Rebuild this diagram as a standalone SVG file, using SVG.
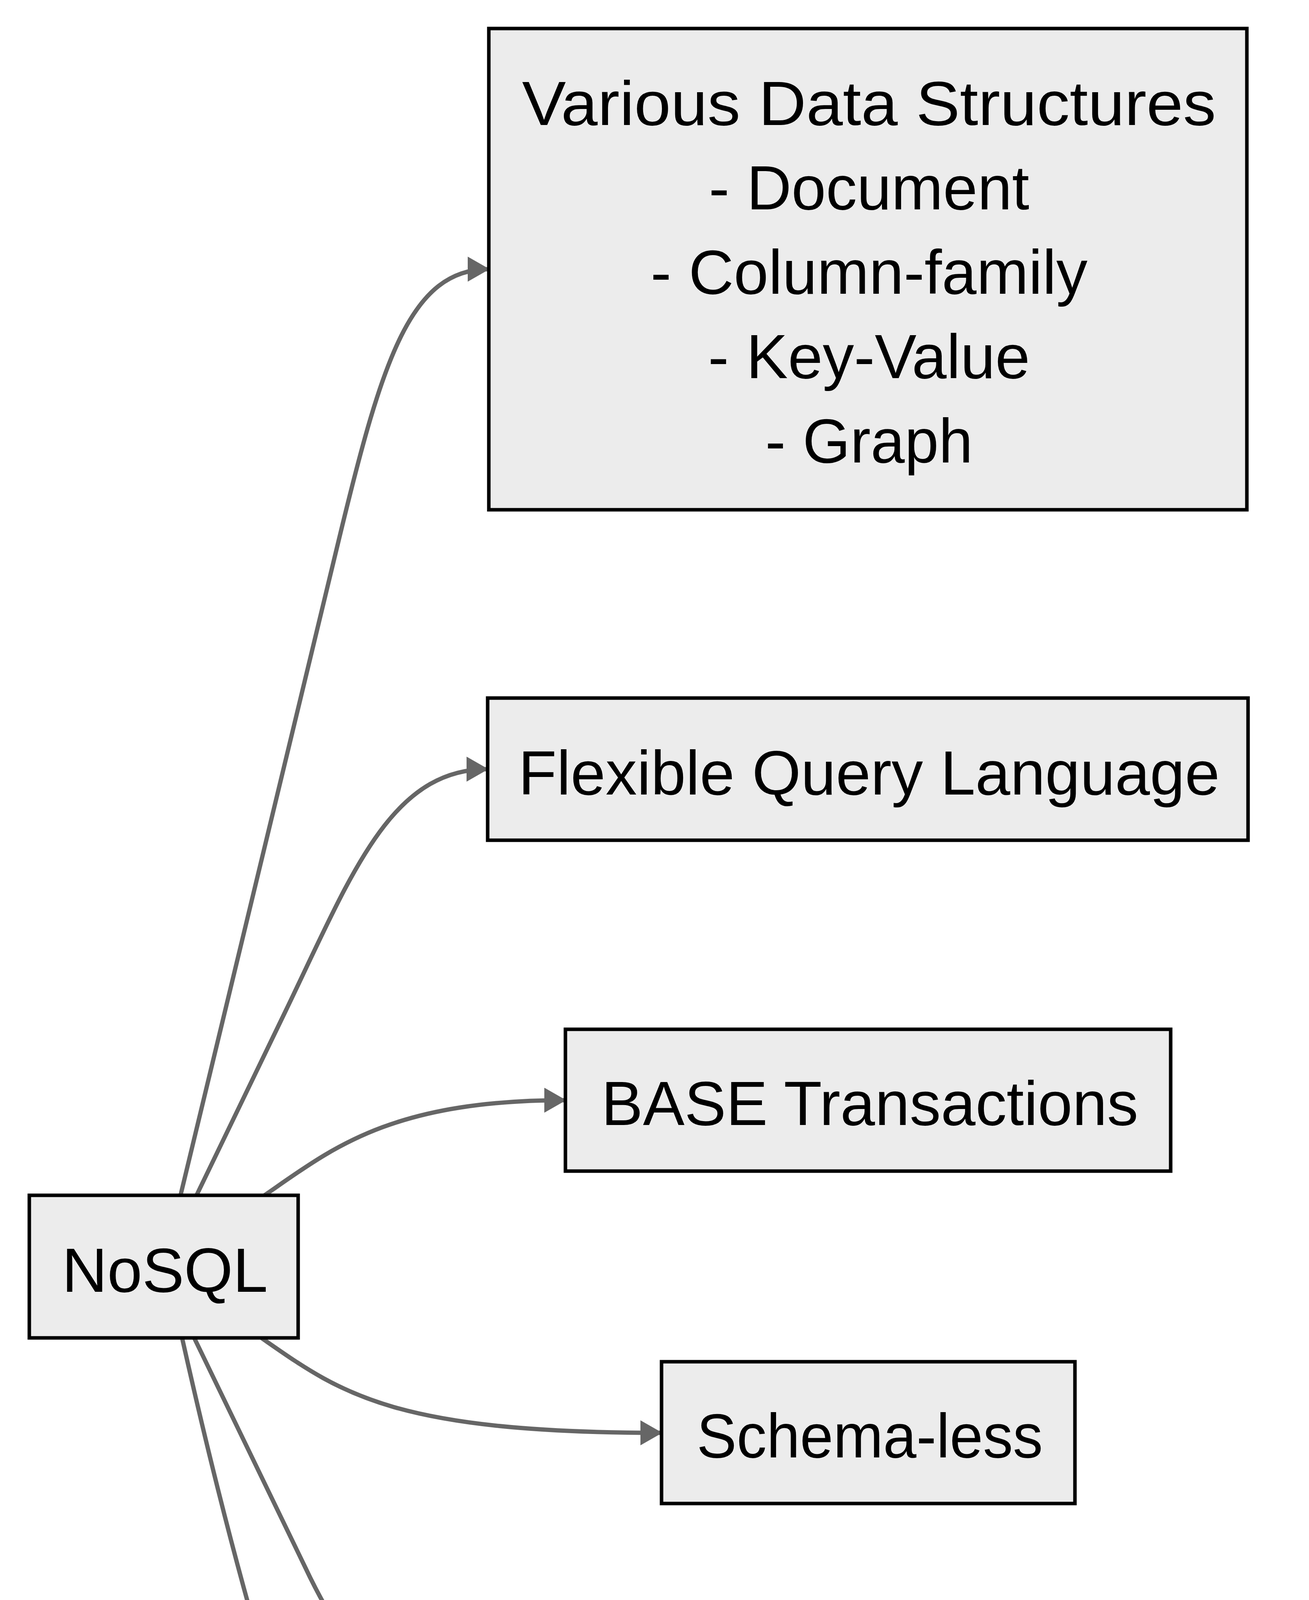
<svg xmlns="http://www.w3.org/2000/svg" width="3350" height="5760" viewBox="0 0 3350 5760">
  <style>
    .node rect { fill: #ececec; stroke: #000000; stroke-width: 9; }
    .node text { font-family: "Comic Sans MS", "Liberation Sans", sans-serif; font-size: 160px; fill: #000000; text-anchor: middle; }
    .edge { fill: none; stroke: #666666; stroke-width: 11; marker-end: url(#arrow); }
  </style>
  <defs>
    <marker id="arrow" markerUnits="userSpaceOnUse" viewBox="0 0 56 64" markerWidth="56" markerHeight="64" refX="54" refY="32" orient="auto">
      <path d="M0,0 L56,32 L0,64 z" fill="#666666"/>
    </marker>
  </defs>
  <rect width="3350" height="5760" fill="#ffffff"/>
  <g id="edges">
    <path class="edge" d="M462,3060 L870,1370 C979,920 1051,689 1251,689"/>
    <path class="edge" d="M503,3060 L731,2588 C900,2238 998,1969 1248,1969"/>
    <path class="edge" d="M677,3060 C850,2940 1000,2816.5 1447,2816.5"/>
    <path class="edge" d="M669,3425 C869,3564 1000,3668 1693,3668"/>
    <path class="edge" d="M497,3425 L780,4010 C968,4410 1202,4516.5 1502,4516.5"/>
    <path class="edge" d="M466,3425 C690,4425 993,5365.5 1293,5365.5"/>
  </g>
  <g id="node-nosql" class="node">
    <rect x="75" y="3060" width="688" height="365"/>
    <text x="422" y="3307" textLength="527" lengthAdjust="spacingAndGlyphs">NoSQL</text>
  </g>
  <g id="node-structures" class="node">
    <rect x="1251" y="73" width="1940" height="1232"/>
    <text x="2224" y="320" textLength="1776" lengthAdjust="spacingAndGlyphs">Various Data Structures</text>
    <text x="2224" y="536" textLength="820" lengthAdjust="spacingAndGlyphs">- Document</text>
    <text x="2224" y="752" textLength="1118" lengthAdjust="spacingAndGlyphs">- Column-family</text>
    <text x="2224" y="968" textLength="824" lengthAdjust="spacingAndGlyphs">- Key-Value</text>
    <text x="2224" y="1184" textLength="531" lengthAdjust="spacingAndGlyphs">- Graph</text>
  </g>
  <g id="node-query" class="node">
    <rect x="1248" y="1787" width="1946" height="364"/>
    <text x="2224" y="2034" textLength="1795" lengthAdjust="spacingAndGlyphs">Flexible Query Language</text>
  </g>
  <g id="node-base" class="node">
    <rect x="1447" y="2635" width="1549" height="363"/>
    <text x="2226" y="2880" textLength="1374" lengthAdjust="spacingAndGlyphs">BASE Transactions</text>
  </g>
  <g id="node-schema" class="node">
    <rect x="1693" y="3486" width="1058" height="363"/>
    <text x="2226" y="3731" textLength="886" lengthAdjust="spacingAndGlyphs">Schema-less</text>
  </g>
  <g id="node-relations" class="node">
    <rect x="1502" y="4335" width="1439" height="363"/>
    <text x="2225" y="4580" textLength="1268" lengthAdjust="spacingAndGlyphs">Flexible Relations</text>
  </g>
  <g id="node-consistency" class="node">
    <rect x="1293" y="5184" width="1853" height="363"/>
    <text x="2225" y="5429" textLength="1691" lengthAdjust="spacingAndGlyphs">Adjustable Consistency</text>
  </g>
</svg>
